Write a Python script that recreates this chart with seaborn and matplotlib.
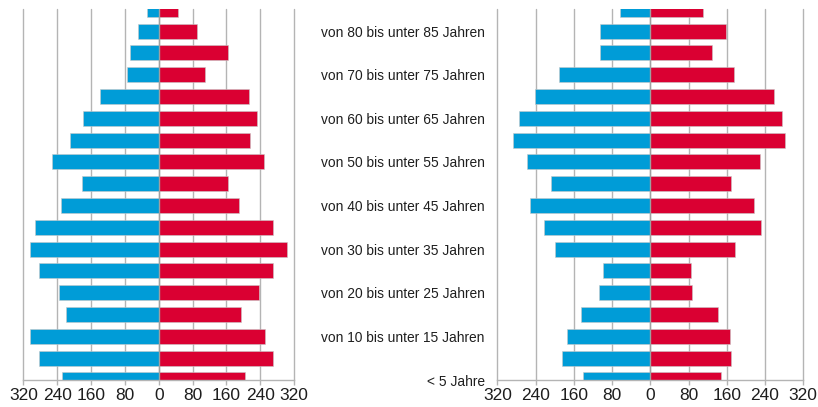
import numpy as np
import pandas as pd
import matplotlib
matplotlib.use("Agg")
import matplotlib.pyplot as plt
import seaborn as sns

# Age groups, top (oldest) to bottom (youngest)
ages = [
    "85 Jahre und mehr",
    "von 80 bis unter 85 Jahren",
    "von 75 bis unter 80 Jahren",
    "von 70 bis unter 75 Jahren",
    "von 65 bis unter 70 Jahren",
    "von 60 bis unter 65 Jahren",
    "von 55 bis unter 60 Jahren",
    "von 50 bis unter 55 Jahren",
    "von 45 bis unter 50 Jahren",
    "von 40 bis unter 45 Jahren",
    "von 35 bis unter 40 Jahren",
    "von 30 bis unter 35 Jahren",
    "von 25 bis unter 30 Jahren",
    "von 20 bis unter 25 Jahren",
    "von 15 bis unter 20 Jahren",
    "von 10 bis unter 15 Jahren",
    "von 5 bis unter 10 Jahren",
    "< 5 Jahre",
]

# Left pyramid
left_male = [27, 50, 68, 76, 138, 179, 210, 253, 181, 230, 292, 304, 282, 235, 218, 304, 282, 228]
left_female = [45, 91, 165, 110, 213, 233, 217, 249, 165, 191, 270, 303, 271, 238, 195, 252, 271, 205]

# Right pyramid
right_male = [64, 106, 105, 192, 241, 275, 287, 259, 208, 252, 223, 199, 99, 108, 144, 174, 185, 141]
right_female = [110, 158, 130, 176, 258, 275, 282, 229, 169, 216, 232, 178, 86, 88, 142, 167, 169, 148]

tick_values = [-320, -240, -160, -80, 0, 80, 160, 240, 320]
tick_labels = ["320", "240", "160", "80", "0", "80", "160", "240", "320"]

BLUE = "#009CD7"
RED = "#DA0032"
GRID = "#B4B4B4"
TEXT = "#1E1E1E"

sns.set_theme(style="white")
plt.rcParams["font.family"] = ["Liberation Sans", "DejaVu Sans"]

fig = plt.figure(figsize=(8.18, 4.07), dpi=100)
ax_left = fig.add_axes([0.0285, 0.0663, 0.331, 0.911])
ax_right = fig.add_axes([0.608, 0.0663, 0.374, 0.911])


def pyramid(ax, male, female):
    df = pd.DataFrame({"age": ages, "male": -np.array(male), "female": np.array(female)})
    sns.barplot(data=df, x="male", y="age", order=ages, color=BLUE, width=0.69,
                saturation=1, edgecolor="#C8C8C8", linewidth=0.4, ax=ax)
    sns.barplot(data=df, x="female", y="age", order=ages, color=RED, width=0.69,
                saturation=1, edgecolor="#C8C8C8", linewidth=0.4, ax=ax)
    ax.set_xlim(-320, 320)
    ax.set_ylim(len(ages) - 1, 0)
    ax.set_xticks(tick_values)
    ax.set_xticklabels(tick_labels, fontsize=12.5, color=TEXT)
    ax.set_xlabel("")
    ax.set_ylabel("")
    ax.set_axisbelow(True)
    ax.grid(axis="x", color=GRID, linewidth=1.0)
    ax.grid(axis="y", visible=False)
    for gl in ax.get_xgridlines():
        gl.set_clip_on(False)
    ax.axvline(0, color="#A0A0A0", linewidth=1.0, zorder=3)
    for side in ("top", "right", "left"):
        ax.spines[side].set_visible(False)
    ax.spines["bottom"].set_color(GRID)
    ax.spines["bottom"].set_linewidth(1.0)
    ax.tick_params(axis="x", direction="out", length=3.5, width=1.0,
                   color=GRID, pad=2, bottom=True)


pyramid(ax_left, left_male, left_female)
pyramid(ax_right, right_male, right_female)

# Left pyramid carries no category labels
ax_left.set_yticks([])

# Every other age group labelled between the two pyramids
label_pos = list(range(len(ages) - 1, 0, -2))
ax_right.set_yticks(label_pos)
ax_right.set_yticklabels([ages[i] for i in label_pos], fontsize=9.9, color=TEXT)
ax_right.tick_params(axis="y", left=False, length=0, pad=9)

fig.savefig("out.png", dpi=100)
